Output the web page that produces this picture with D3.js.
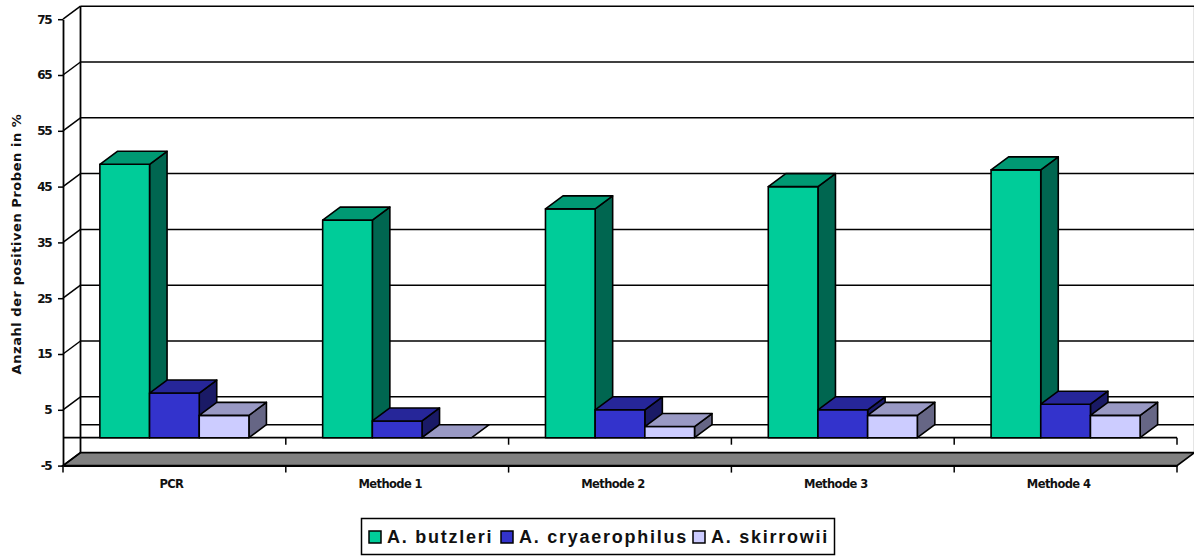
<!DOCTYPE html>
<html>
<head>
<meta charset="utf-8">
<script src="https://cdn.jsdelivr.net/npm/d3@7"></script>
<style>
  html, body { margin: 0; padding: 0; background: #fff; }
  svg { display: block; }
</style>
</head>
<body>
<svg width="1194" height="556"></svg>
<script>
var categories = ["PCR", "Methode 1", "Methode 2", "Methode 3", "Methode 4"];
var seriesNames = ["A. butzleri", "A. cryaerophilus", "A. skirrowii"];
var butzleri = [49, 39, 41, 45, 48];
var cryaerophilus = [8, 3, 5, 5, 6];
var skirrowii = [4, 0, 2, 4, 4];
var yTicks = [-5, 5, 15, 25, 35, 45, 55, 65, 75];

var seriesValues = [butzleri, cryaerophilus, skirrowii];
var faceColors = ["#00cc99", "#3333cc", "#ccccff"];
var topColors = ["#009973", "#262699", "#9999c4"];
var sideColors = ["#006650", "#1a1a66", "#666685"];

var svg = d3.select("svg");
var dx = 17.5, dy = -13; // depth of the fake 3d

var x = d3.scaleBand().domain(categories).range([63, 1177]).paddingInner(0.331).paddingOuter(0.1655);
var xSeries = d3.scaleBand().domain(d3.range(seriesNames.length)).range([0, x.bandwidth()]);
var y = d3.scaleLinear().domain([-5, 75]).range([465.6, 19.2]);

// floor
svg.append("path")
  .attr("d", d3.line()([[x.range()[0], y(-5)], [x.range()[0] + dx, y(-5) + dy], [x.range()[1] + dx, y(-5) + dy], [x.range()[1], y(-5)]]) + "Z")
  .attr("fill", "#808080")
  .attr("stroke", "#000")
  .attr("stroke-width", 1.8);

// back wall + grid lines
var wall = svg.append("g").attr("stroke", "#000").attr("stroke-width", 1.5);
wall.append("line")
  .attr("x1", x.range()[0] + dx).attr("x2", x.range()[0] + dx)
  .attr("y1", y(75) + dy).attr("y2", y(-5) + dy)
  .attr("stroke-width", 1.8);
wall.append("line")
  .attr("x1", x.range()[1] + dx).attr("x2", x.range()[1] + dx)
  .attr("y1", y(75) + dy).attr("y2", y(-5) + dy)
  .attr("stroke-width", 1.2);
wall.selectAll("line.grid")
  .data(yTicks.concat([0]).filter((d) => d > -5))
  .enter()
  .append("line")
  .attr("class", "grid")
  .attr("x1", x.range()[0] + dx)
  .attr("x2", x.range()[1] + dx)
  .attr("y1", (d) => y(d) + dy)
  .attr("y2", (d) => y(d) + dy);

// slanted ticks between front axis and wall
wall.selectAll("line.slant")
  .data(yTicks)
  .enter()
  .append("line")
  .attr("class", "slant")
  .attr("x1", x.range()[0])
  .attr("x2", x.range()[0] + dx)
  .attr("y1", (d) => y(d))
  .attr("y2", (d) => y(d) + dy);

// zero line and its ticks
svg.append("line")
  .attr("x1", x.range()[0]).attr("x2", x.range()[1])
  .attr("y1", y(0)).attr("y2", y(0))
  .attr("stroke", "#000").attr("stroke-width", 1.8);
svg.append("g")
  .selectAll("line")
  .data(categories.slice(1).map((d) => x(d) - x.step() * 0.1655).concat([x.range()[1]]))
  .enter()
  .append("line")
  .attr("x1", (d) => d).attr("x2", (d) => d)
  .attr("y1", y(0)).attr("y2", y(0) + 7)
  .attr("stroke", "#000").attr("stroke-width", 1.5);

// bars
var groups = svg.selectAll("g.cat")
  .data(categories)
  .enter()
  .append("g")
  .attr("class", "cat")
  .attr("transform", (d) => "translate(" + x(d) + ",0)");

seriesNames.forEach(function (name, s) {
  groups.each(function (cat, i) {
    var v = seriesValues[s][i];
    var g = d3.select(this).append("g").attr("stroke", "#000").attr("stroke-width", 1.6).attr("stroke-linejoin", "round");
    var x0 = xSeries(s), x1 = x0 + xSeries.bandwidth(), yTop = y(v), y0 = y(0);
    if (v > 0) {
      g.append("path")
        .attr("d", d3.line()([[x1, y0], [x1 + dx, y0 + dy], [x1 + dx, yTop + dy], [x1, yTop]]) + "Z")
        .attr("fill", sideColors[s]);
      g.append("rect")
        .attr("x", x0).attr("y", yTop)
        .attr("width", xSeries.bandwidth()).attr("height", y0 - yTop)
        .attr("fill", faceColors[s]);
    }
    g.append("path")
      .attr("d", d3.line()([[x0, yTop], [x0 + dx, yTop + dy], [x1 + dx, yTop + dy], [x1, yTop]]) + "Z")
      .attr("fill", topColors[s]);
  });
});

// axes
var yAxis = svg.append("g")
  .attr("transform", "translate(" + x.range()[0] + ",0)")
  .call(d3.axisLeft(y).tickValues(yTicks).tickSize(5).tickSizeOuter(0).tickFormat((d) => String(d)));
var xAxis = svg.append("g")
  .attr("transform", "translate(0," + y(-5) + ")")
  .call(d3.axisBottom(x).tickSize(0).tickPadding(14));

xAxis.selectAll(".tick line").remove();
xAxis.select(".domain").attr("stroke", "#000").attr("stroke-width", 1.8);
yAxis.select(".domain").attr("stroke", "#000").attr("stroke-width", 1.8);
yAxis.selectAll(".tick line").attr("stroke", "#000").attr("stroke-width", 1.5);

yAxis.selectAll("text")
  .attr("font-family", "DejaVu Sans")
  .attr("font-size", 12)
  .attr("font-weight", "bold")
  .attr("letter-spacing", "-1.5")
  .attr("fill", "#111")
  .attr("dx", "-4");
xAxis.selectAll("text")
  .attr("font-family", "DejaVu Sans")
  .attr("font-size", 11.5)
  .attr("letter-spacing", "-0.6")
  .attr("fill", "#111")
  .attr("font-weight", "600")
  .attr("dx", (d) => (d === "PCR" ? -3 : -7));

// bottom ticks under the floor
svg.append("g")
  .selectAll("line")
  .data([x.range()[0]].concat(categories.slice(1).map((d) => x(d) - x.step() * 0.1655)).concat([x.range()[1]]))
  .enter()
  .append("line")
  .attr("x1", (d) => d).attr("x2", (d) => d)
  .attr("y1", y(-5)).attr("y2", y(-5) + 7)
  .attr("stroke", "#000").attr("stroke-width", 1.5);

svg.append("text")
  .attr("transform", "translate(21,244) rotate(-90)")
  .attr("text-anchor", "middle")
  .attr("font-family", "DejaVu Sans")
  .attr("font-weight", "bold")
  .attr("font-size", 13)
  .attr("letter-spacing", "0.55")
  .attr("fill", "#111")
  .text("Anzahl der positiven Proben in %");

// legend
var legend = svg.append("g");
legend.append("rect")
  .attr("x", 361.5).attr("y", 518.5)
  .attr("width", 473).attr("height", 36)
  .attr("fill", "#fff").attr("stroke", "#000").attr("stroke-width", 1.5);
var legendX = [369, 501, 693];
seriesNames.forEach(function (name, s) {
  legend.append("rect")
    .attr("x", legendX[s]).attr("y", 531)
    .attr("width", 12).attr("height", 12)
    .attr("fill", faceColors[s]).attr("stroke", "#000").attr("stroke-width", 1.5);
  legend.append("text")
    .attr("x", legendX[s] + 18).attr("y", 543)
    .attr("font-family", "Liberation Sans")
    .attr("font-weight", "bold")
    .attr("font-size", 18)
    .attr("letter-spacing", "1.75")
    .attr("fill", "#111")
    .text(name);
});
</script>
</body>
</html>
